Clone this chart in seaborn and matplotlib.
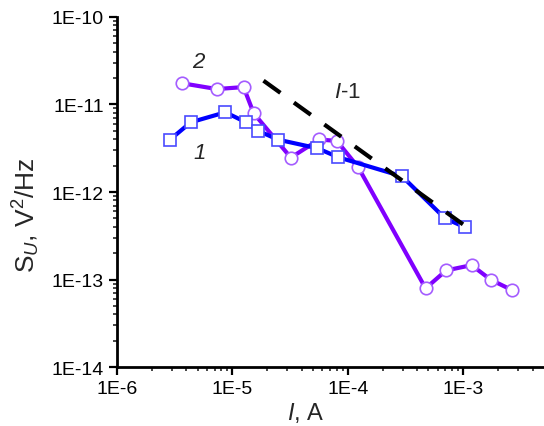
import numpy as np
import pandas as pd
import matplotlib
matplotlib.use("Agg")
import matplotlib.pyplot as plt
import matplotlib.ticker as mticker
import seaborn as sns

# values
curr_1 = [2.88e-6, 4.36e-6, 8.7e-6, 1.31e-5, 1.66e-5, 2.49e-5, 5.46e-5,
          8.3e-5, 2.95e-4, 6.95e-4, 1.04e-3]
noise_1 = [3.96e-12, 6.26e-12, 8.14e-12, 6.26e-12, 5.02e-12, 3.96e-12,
           3.16e-12, 2.49e-12, 1.51e-12, 5.0e-13, 3.95e-13]

curr_2 = [3.64e-6, 7.32e-6, 1.25e-5, 1.53e-5, 3.21e-5, 5.65e-5, 8.04e-5,
          1.23e-4, 4.72e-4, 7.1e-4, 1.18e-3, 1.73e-3, 2.67e-3]
noise_2 = [1.75e-11, 1.50e-11, 1.58e-11, 7.93e-12, 2.47e-12, 3.98e-12,
           3.83e-12, 1.92e-12, 7.93e-14, 1.27e-13, 1.46e-13, 9.95e-14, 7.53e-14]

# I^-1 guide line end points
guide_x = [1.86e-5, 1.22e-3]
guide_y = [1.87e-11, 3.52e-13]

sns.set_style("ticks")
plt.rcParams['font.family'] = ['Liberation Sans', 'DejaVu Sans']
plt.rcParams['mathtext.fontset'] = 'custom'
plt.rcParams['mathtext.rm'] = 'Liberation Sans'
plt.rcParams['mathtext.it'] = 'Liberation Sans:italic'

fig = plt.figure(figsize=(5.44, 4.27), dpi=100)
ax = fig.add_axes([0.215, 0.138, 0.783, 0.82])
ax.set_xscale('log')
ax.set_yscale('log')

df1 = pd.DataFrame({'I': curr_1, 'S': noise_1})
df2 = pd.DataFrame({'I': curr_2, 'S': noise_2})

sns.lineplot(data=df2, x='I', y='S', ax=ax, sort=False, color='#8000ff',
             lw=3, marker='o', markersize=9, markerfacecolor='white',
             markeredgecolor='#a45cff', markeredgewidth=1.2, zorder=3)
sns.lineplot(data=df1, x='I', y='S', ax=ax, sort=False, color='#0000ff',
             lw=3, marker='s', markersize=9, markerfacecolor='white',
             markeredgecolor='#4a4aff', markeredgewidth=1.2, zorder=4)
sns.lineplot(x=guide_x, y=guide_y, ax=ax, color='black', lw=3,
             dashes=(5, 4), zorder=5)

ax.set_xlim(1e-6, 4.9e-3)
ax.set_ylim(1e-14, 1e-10)

fmt = mticker.FuncFormatter(lambda v, p: f"1E{int(round(np.log10(v)))}")
ax.xaxis.set_major_locator(mticker.LogLocator(base=10, numticks=10))
ax.yaxis.set_major_locator(mticker.LogLocator(base=10, numticks=10))
ax.xaxis.set_major_formatter(fmt)
ax.yaxis.set_major_formatter(fmt)
ax.xaxis.set_minor_locator(mticker.LogLocator(base=10, subs=np.arange(2, 10), numticks=20))
ax.yaxis.set_minor_locator(mticker.LogLocator(base=10, subs=np.arange(2, 10), numticks=20))
ax.xaxis.set_minor_formatter(mticker.NullFormatter())
ax.yaxis.set_minor_formatter(mticker.NullFormatter())

ax.tick_params(which='major', direction='out', length=6, width=1.6, labelsize=14, colors='black')
ax.tick_params(which='minor', direction='out', length=3, width=1.2)
for side in ['left', 'bottom']:
    ax.spines[side].set_linewidth(2)
    ax.spines[side].set_color('black')
sns.despine(ax=ax)

ax.set_xlabel("$I$, A", fontsize=17)
ax.xaxis.set_label_coords(0.444, -0.095)
ax.set_ylabel("S$_{U}$, V$^{2}$/Hz", fontsize=19)
ax.yaxis.set_label_coords(-0.175, 0.437)

# curve labels
ax.text(5.05e-6, 3.06e-11, "2", fontsize=16, style='italic', ha='center', va='center')
ax.text(5.25e-6, 2.86e-12, "1", fontsize=16, style='italic', ha='center', va='center')
ax.text(9.9e-5, 1.39e-11, "$I$-1", fontsize=16, ha='center', va='center')

fig.savefig("out.png", dpi=100)
